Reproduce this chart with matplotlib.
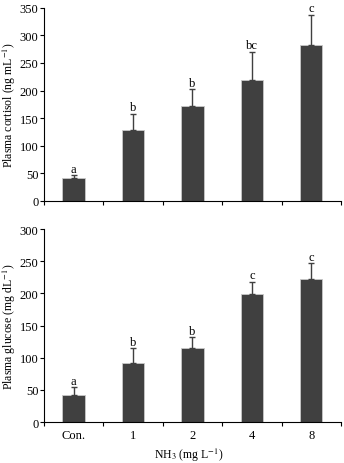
import matplotlib
matplotlib.use("Agg")
import matplotlib.pyplot as plt
import numpy as np

groups = ["Con.", "1", "2", "4", "8"]
cortisol = [41, 129, 172, 220, 283]
cortisol_err = [5, 29, 30, 50, 54]
cortisol_letters = ["a", "b", "b", "bc", "c"]
glucose = [43, 92, 116, 199, 223]
glucose_err = [11, 23, 16, 19, 24]
glucose_letters = ["a", "b", "b", "c", "c"]

plt.rcParams["font.family"] = ["Liberation Serif", "DejaVu Serif"]
plt.rcParams["font.size"] = 9
plt.rcParams["mathtext.fontset"] = "stix"

fig = plt.figure(figsize=(3.44, 4.64), dpi=100)
ax1 = fig.add_axes([0.128, 0.565, 0.863, 0.416])
ax2 = fig.add_axes([0.128, 0.088, 0.863, 0.416])

bar_color = "#404040"
x = np.arange(len(groups))


def draw(ax, vals, errs, letters, ymax, ylabel):
    ax.bar(x, vals, width=0.38, color=bar_color, edgecolor="#c8c8c8", linewidth=0.6, zorder=2)
    ax.errorbar(x, vals, yerr=[np.zeros(len(vals)), errs], fmt="none",
                ecolor=bar_color, elinewidth=1.0, capsize=2, capthick=1.0, zorder=3)
    for xi, v, e, l in zip(x, vals, errs, letters):
        ax.text(xi, v + e + ymax * 0.003, l, ha="center", va="bottom", fontsize=9)
    ax.set_xlim(-0.5, len(groups) - 0.5)
    ax.set_ylim(0, ymax)
    ax.set_yticks(np.arange(0, ymax + 1, 50))
    ax.set_xticks(np.arange(-0.5, len(groups), 1.0))
    ax.set_xticklabels([])
    ax.tick_params(axis="x", direction="out", length=3, width=0.8)
    ax.tick_params(axis="y", direction="out", length=3, width=0.8, pad=1, labelsize=9)
    ax.spines["top"].set_visible(False)
    ax.spines["right"].set_visible(False)
    ax.spines["left"].set_linewidth(0.8)
    ax.spines["bottom"].set_linewidth(0.8)
    ax.set_ylabel(ylabel, fontsize=8.5)
    ax.yaxis.set_label_coords(-0.088, 0.5)


draw(ax1, cortisol, cortisol_err, cortisol_letters, 350, "Plasma cortisol (ng mL$^{-1}$)")
draw(ax2, glucose, glucose_err, glucose_letters, 300, "Plasma glucose (mg dL$^{-1}$)")

for xi, g in zip(x, groups):
    ax2.text(xi, -0.035, g, transform=ax2.get_xaxis_transform(), ha="center", va="top", fontsize=9)
fig.text(0.55, 1 - 455 / 464, "NH$_3$ (mg L$^{-1}$)", ha="center", va="center", fontsize=8.5)

fig.savefig("out.png", dpi=100)
